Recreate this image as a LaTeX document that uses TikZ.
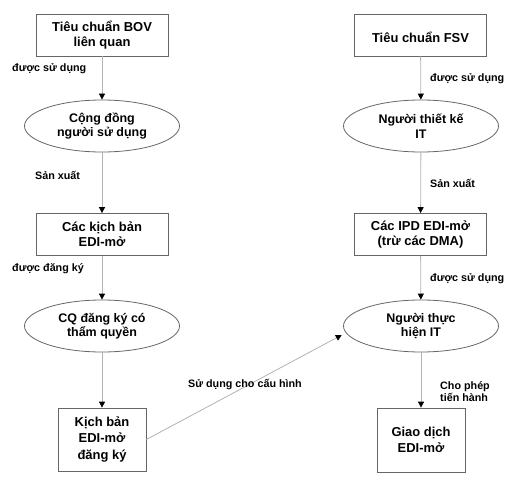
\documentclass[tikz,border=0pt]{standalone}
\usepackage{fontspec}
\setmainfont{Liberation Sans}
\usetikzlibrary{shapes.geometric,arrows.meta}
\begin{document}
\begin{tikzpicture}[x=1bp,y=-1bp,
 box/.style={draw=black!60, line width=0.8bp, minimum width=132bp, minimum height=42bp, align=center, inner sep=0,
   font=\bfseries\fontsize{13}{15.5}\selectfont},
 ell/.style={ellipse, draw=black!60, line width=0.8bp, minimum width=155bp, minimum height=52bp, inner sep=0, align=center,
   font=\bfseries\fontsize{12.5}{14.5}\selectfont},
 conn/.style={draw=black!30, line width=0.8bp, -{Triangle[width=6bp,length=6bp,color=black]}},
 lab/.style={font=\bfseries\fontsize{10.8}{12}\selectfont, align=left, inner sep=0, anchor=west}
]
\useasboundingbox (0,0) rectangle (513,483);
\node[box] (b1) at (102,35) {Tiêu chuẩn BOV\\liên quan};
\node[ell] (e1) at (102,126) {Cộng đồng\\người sử dụng};
\node[box] (b2) at (102,234.5) {Các kịch bản\\EDI-mở};
\node[ell] (e2) at (102,326) {CQ đăng ký có\\thẩm quyền};
\node[box, minimum width=88bp, minimum height=63bp, font=\bfseries\fontsize{13}{16.5}\selectfont] (b3) at (102,439.5) {Kịch bản\\EDI-mở\\đăng ký};
\node[box] (b4) at (420.5,35) {\mbox{}\\Tiêu chuẩn FSV};
\node[ell] (e3) at (421,126) {Người thiết kế\\IT};
\node[box] (b5) at (420.5,234.5) {Các IPD EDI-mở\\(trừ các DMA)};
\node[ell] (e4) at (421,326) {Người thực\\hiện IT};
\node[box, minimum width=88bp, minimum height=64bp, font=\bfseries\fontsize{13}{16.5}\selectfont] (b6) at (421,440) {Giao dịch\\EDI-mở};

\draw[conn] (b1) -- (e1);
\draw[conn] (e1) -- (b2);
\draw[conn] (b2) -- (e2);
\draw[conn] (e2) -- (b3);
\draw[conn] (b4) -- (e3);
\draw[conn] (e3) -- (b5);
\draw[conn] (b5) -- (e4);
\draw[conn] (e4) -- (b6);
\draw[conn] (b3.east) -- ([xshift=-6bp]e4.187);

\node[lab] (l1) at (12,69) {được sử dụng};
\node[lab] (l2) at (35,175) {Sản xuất};
\node[lab] (l3) at (12,269) {được đăng ký};
\node[lab] (l4) at (430,79) {được sử dụng};
\node[lab] (l5) at (430,183) {Sản xuất};
\node[lab] (l6) at (430,279) {được sử dụng};
\node[lab] (l7) at (440,391.5) {Cho phép\\tiến hành};
\node[lab] (l8) at (188,385) {Sử dụng cho cấu hình};
\end{tikzpicture}
\end{document}
